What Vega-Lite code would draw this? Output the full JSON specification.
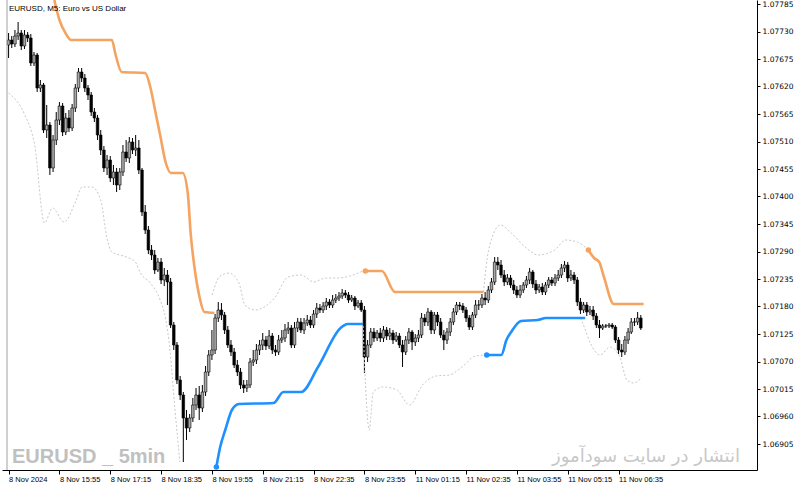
{
"$schema": "https://vega.github.io/schema/vega-lite/v6.json",
"width": 755, "height": 470,
"autosize": {"type": "none"},
"padding": {"left": 2, "top": 0, "right": 43, "bottom": 17},
"background": "white",
"config": {"view": {"stroke": null}, "axis": {"grid": false, "title": null}},
"datasets": {
"bars": [
{"i":0,"o":1.07703,"h":1.07727,"l":1.07677,"c":1.07713},
{"i":1,"o":1.07713,"h":1.07721,"l":1.07697,"c":1.07705},
{"i":2,"o":1.07705,"h":1.07733,"l":1.07699,"c":1.07721},
{"i":3,"o":1.07721,"h":1.07749,"l":1.07713,"c":1.07727},
{"i":4,"o":1.07727,"h":1.07733,"l":1.07693,"c":1.07701},
{"i":5,"o":1.07701,"h":1.07733,"l":1.07695,"c":1.07723},
{"i":6,"o":1.07723,"h":1.07729,"l":1.07709,"c":1.07717},
{"i":7,"o":1.07717,"h":1.07725,"l":1.07661,"c":1.07667},
{"i":8,"o":1.07667,"h":1.07689,"l":1.07661,"c":1.07683},
{"i":9,"o":1.07683,"h":1.07687,"l":1.07609,"c":1.07617},
{"i":10,"o":1.07617,"h":1.07633,"l":1.07609,"c":1.07623},
{"i":11,"o":1.07623,"h":1.07627,"l":1.07527,"c":1.07533},
{"i":12,"o":1.07533,"h":1.07583,"l":1.07517,"c":1.07543},
{"i":13,"o":1.07543,"h":1.07549,"l":1.07443,"c":1.07457},
{"i":14,"o":1.07457,"h":1.07523,"l":1.07449,"c":1.07513},
{"i":15,"o":1.07513,"h":1.07569,"l":1.07503,"c":1.07553},
{"i":16,"o":1.07553,"h":1.07589,"l":1.07543,"c":1.07581},
{"i":17,"o":1.07581,"h":1.07587,"l":1.07521,"c":1.07529},
{"i":18,"o":1.07529,"h":1.07567,"l":1.07523,"c":1.07557},
{"i":19,"o":1.07557,"h":1.07573,"l":1.07529,"c":1.07537},
{"i":20,"o":1.07537,"h":1.07585,"l":1.07531,"c":1.07577},
{"i":21,"o":1.07577,"h":1.07625,"l":1.07569,"c":1.07617},
{"i":22,"o":1.07617,"h":1.07657,"l":1.07609,"c":1.07649},
{"i":23,"o":1.07649,"h":1.07657,"l":1.07629,"c":1.07637},
{"i":24,"o":1.07637,"h":1.07645,"l":1.07609,"c":1.07617},
{"i":25,"o":1.07617,"h":1.07623,"l":1.07593,"c":1.07603},
{"i":26,"o":1.07603,"h":1.07609,"l":1.07561,"c":1.07569},
{"i":27,"o":1.07569,"h":1.07577,"l":1.07549,"c":1.07557},
{"i":28,"o":1.07557,"h":1.07563,"l":1.07513,"c":1.07523},
{"i":29,"o":1.07523,"h":1.07533,"l":1.07483,"c":1.07493},
{"i":30,"o":1.07493,"h":1.07501,"l":1.07449,"c":1.07457},
{"i":31,"o":1.07457,"h":1.07483,"l":1.07443,"c":1.07473},
{"i":32,"o":1.07473,"h":1.07481,"l":1.07429,"c":1.07437},
{"i":33,"o":1.07437,"h":1.07463,"l":1.07423,"c":1.07449},
{"i":34,"o":1.07449,"h":1.07457,"l":1.07409,"c":1.07423},
{"i":35,"o":1.07423,"h":1.07457,"l":1.07413,"c":1.07449},
{"i":36,"o":1.07449,"h":1.07503,"l":1.07441,"c":1.07489},
{"i":37,"o":1.07489,"h":1.07513,"l":1.07469,"c":1.07477},
{"i":38,"o":1.07477,"h":1.07519,"l":1.07467,"c":1.07509},
{"i":39,"o":1.07509,"h":1.07517,"l":1.07485,"c":1.07493},
{"i":40,"o":1.07493,"h":1.07523,"l":1.07481,"c":1.07497},
{"i":41,"o":1.07497,"h":1.07513,"l":1.07445,"c":1.07453},
{"i":42,"o":1.07453,"h":1.07457,"l":1.07361,"c":1.07369},
{"i":43,"o":1.07369,"h":1.07383,"l":1.07325,"c":1.07333},
{"i":44,"o":1.07333,"h":1.07341,"l":1.07285,"c":1.07293},
{"i":45,"o":1.07293,"h":1.07303,"l":1.07273,"c":1.07283},
{"i":46,"o":1.07283,"h":1.07293,"l":1.07245,"c":1.07253},
{"i":47,"o":1.07253,"h":1.07277,"l":1.07249,"c":1.07269},
{"i":48,"o":1.07269,"h":1.07277,"l":1.07225,"c":1.07233},
{"i":49,"o":1.07233,"h":1.07257,"l":1.07221,"c":1.07243},
{"i":50,"o":1.07243,"h":1.07253,"l":1.07183,"c":1.07229},
{"i":51,"o":1.07229,"h":1.07237,"l":1.07137,"c":1.07143},
{"i":52,"o":1.07143,"h":1.07149,"l":1.07093,"c":1.07103},
{"i":53,"o":1.07103,"h":1.07109,"l":1.07025,"c":1.07033},
{"i":54,"o":1.07033,"h":1.07041,"l":1.06993,"c":1.07003},
{"i":55,"o":1.07003,"h":1.07009,"l":1.06869,"c":1.06957},
{"i":56,"o":1.06957,"h":1.06973,"l":1.06913,"c":1.06937},
{"i":57,"o":1.06937,"h":1.06965,"l":1.06929,"c":1.06957},
{"i":58,"o":1.06957,"h":1.06997,"l":1.06949,"c":1.06983},
{"i":59,"o":1.06983,"h":1.07017,"l":1.06973,"c":1.07003},
{"i":60,"o":1.07003,"h":1.07021,"l":1.06953,"c":1.06977},
{"i":61,"o":1.06977,"h":1.07023,"l":1.06969,"c":1.07009},
{"i":62,"o":1.07009,"h":1.07061,"l":1.07001,"c":1.07049},
{"i":63,"o":1.07049,"h":1.07093,"l":1.07041,"c":1.07083},
{"i":64,"o":1.07083,"h":1.07133,"l":1.07073,"c":1.07093},
{"i":65,"o":1.07093,"h":1.07165,"l":1.07085,"c":1.07157},
{"i":66,"o":1.07157,"h":1.07189,"l":1.07149,"c":1.07173},
{"i":67,"o":1.07173,"h":1.07187,"l":1.07153,"c":1.07163},
{"i":68,"o":1.07163,"h":1.07169,"l":1.07125,"c":1.07133},
{"i":69,"o":1.07133,"h":1.07141,"l":1.07097,"c":1.07103},
{"i":70,"o":1.07103,"h":1.07113,"l":1.07081,"c":1.07089},
{"i":71,"o":1.07089,"h":1.07097,"l":1.07057,"c":1.07063},
{"i":72,"o":1.07063,"h":1.07073,"l":1.07041,"c":1.07049},
{"i":73,"o":1.07049,"h":1.07057,"l":1.07015,"c":1.07023},
{"i":74,"o":1.07023,"h":1.07033,"l":1.07007,"c":1.07017},
{"i":75,"o":1.07017,"h":1.07033,"l":1.07009,"c":1.07023},
{"i":76,"o":1.07023,"h":1.07077,"l":1.07017,"c":1.07069},
{"i":77,"o":1.07069,"h":1.07093,"l":1.07061,"c":1.07073},
{"i":78,"o":1.07073,"h":1.07105,"l":1.07065,"c":1.07093},
{"i":79,"o":1.07093,"h":1.07113,"l":1.07083,"c":1.07103},
{"i":80,"o":1.07103,"h":1.07127,"l":1.07093,"c":1.07113},
{"i":81,"o":1.07113,"h":1.07121,"l":1.07093,"c":1.07101},
{"i":82,"o":1.07101,"h":1.07133,"l":1.07095,"c":1.07121},
{"i":83,"o":1.07121,"h":1.07127,"l":1.07085,"c":1.07093},
{"i":84,"o":1.07093,"h":1.07103,"l":1.07081,"c":1.07089},
{"i":85,"o":1.07089,"h":1.07123,"l":1.07083,"c":1.07113},
{"i":86,"o":1.07113,"h":1.07133,"l":1.07107,"c":1.07117},
{"i":87,"o":1.07117,"h":1.07145,"l":1.07109,"c":1.07133},
{"i":88,"o":1.07133,"h":1.07149,"l":1.07125,"c":1.07137},
{"i":89,"o":1.07137,"h":1.07143,"l":1.07097,"c":1.07103},
{"i":90,"o":1.07103,"h":1.07149,"l":1.07097,"c":1.07137},
{"i":91,"o":1.07137,"h":1.07157,"l":1.07129,"c":1.07149},
{"i":92,"o":1.07149,"h":1.07157,"l":1.07127,"c":1.07133},
{"i":93,"o":1.07133,"h":1.07157,"l":1.07125,"c":1.07147},
{"i":94,"o":1.07147,"h":1.07163,"l":1.07141,"c":1.07153},
{"i":95,"o":1.07153,"h":1.07161,"l":1.07137,"c":1.07143},
{"i":96,"o":1.07143,"h":1.07173,"l":1.07137,"c":1.07165},
{"i":97,"o":1.07165,"h":1.07187,"l":1.07157,"c":1.07177},
{"i":98,"o":1.07177,"h":1.07185,"l":1.07167,"c":1.07173},
{"i":99,"o":1.07173,"h":1.07189,"l":1.07167,"c":1.07181},
{"i":100,"o":1.07181,"h":1.07197,"l":1.07173,"c":1.07189},
{"i":101,"o":1.07189,"h":1.07195,"l":1.07177,"c":1.07183},
{"i":102,"o":1.07183,"h":1.07203,"l":1.07177,"c":1.07193},
{"i":103,"o":1.07193,"h":1.07205,"l":1.07187,"c":1.07197},
{"i":104,"o":1.07197,"h":1.07209,"l":1.07191,"c":1.07201},
{"i":105,"o":1.07201,"h":1.07215,"l":1.07195,"c":1.07207},
{"i":106,"o":1.07207,"h":1.07213,"l":1.07197,"c":1.07203},
{"i":107,"o":1.07203,"h":1.07209,"l":1.07187,"c":1.07193},
{"i":108,"o":1.07193,"h":1.07203,"l":1.07189,"c":1.07197},
{"i":109,"o":1.07197,"h":1.07201,"l":1.07173,"c":1.07181},
{"i":110,"o":1.07181,"h":1.07193,"l":1.07177,"c":1.07187},
{"i":111,"o":1.07187,"h":1.07193,"l":1.07169,"c":1.07173},
{"i":112,"o":1.07173,"h":1.07181,"l":1.07047,"c":1.07079},
{"i":113,"o":1.07079,"h":1.07113,"l":1.07069,"c":1.07103},
{"i":114,"o":1.07103,"h":1.07137,"l":1.07097,"c":1.07129},
{"i":115,"o":1.07129,"h":1.07137,"l":1.07109,"c":1.07117},
{"i":116,"o":1.07117,"h":1.07133,"l":1.07111,"c":1.07127},
{"i":117,"o":1.07127,"h":1.07137,"l":1.07109,"c":1.07117},
{"i":118,"o":1.07117,"h":1.07141,"l":1.07109,"c":1.07133},
{"i":119,"o":1.07133,"h":1.07139,"l":1.07113,"c":1.07121},
{"i":120,"o":1.07121,"h":1.07137,"l":1.07113,"c":1.07127},
{"i":121,"o":1.07127,"h":1.07133,"l":1.07105,"c":1.07113},
{"i":122,"o":1.07113,"h":1.07129,"l":1.07109,"c":1.07121},
{"i":123,"o":1.07121,"h":1.07127,"l":1.07097,"c":1.07103},
{"i":124,"o":1.07103,"h":1.07113,"l":1.07059,"c":1.07089},
{"i":125,"o":1.07089,"h":1.07121,"l":1.07083,"c":1.07113},
{"i":126,"o":1.07113,"h":1.07137,"l":1.07105,"c":1.07129},
{"i":127,"o":1.07129,"h":1.07133,"l":1.07093,"c":1.07109},
{"i":128,"o":1.07109,"h":1.07125,"l":1.07101,"c":1.07117},
{"i":129,"o":1.07117,"h":1.07133,"l":1.07109,"c":1.07123},
{"i":130,"o":1.07123,"h":1.07167,"l":1.07117,"c":1.07157},
{"i":131,"o":1.07157,"h":1.07165,"l":1.07141,"c":1.07149},
{"i":132,"o":1.07149,"h":1.07177,"l":1.07141,"c":1.07169},
{"i":133,"o":1.07169,"h":1.07173,"l":1.07125,"c":1.07133},
{"i":134,"o":1.07133,"h":1.07169,"l":1.07125,"c":1.07163},
{"i":135,"o":1.07163,"h":1.07169,"l":1.07141,"c":1.07149},
{"i":136,"o":1.07149,"h":1.07157,"l":1.07117,"c":1.07123},
{"i":137,"o":1.07123,"h":1.07133,"l":1.07093,"c":1.07113},
{"i":138,"o":1.07113,"h":1.07137,"l":1.07105,"c":1.07129},
{"i":139,"o":1.07129,"h":1.07157,"l":1.07121,"c":1.07149},
{"i":140,"o":1.07149,"h":1.07177,"l":1.07143,"c":1.07169},
{"i":141,"o":1.07169,"h":1.07189,"l":1.07163,"c":1.07183},
{"i":142,"o":1.07183,"h":1.07189,"l":1.07173,"c":1.07181},
{"i":143,"o":1.07181,"h":1.07187,"l":1.07167,"c":1.07173},
{"i":144,"o":1.07173,"h":1.07179,"l":1.07149,"c":1.07157},
{"i":145,"o":1.07157,"h":1.07163,"l":1.07133,"c":1.07139},
{"i":146,"o":1.07139,"h":1.07169,"l":1.07133,"c":1.07163},
{"i":147,"o":1.07163,"h":1.07193,"l":1.07157,"c":1.07183},
{"i":148,"o":1.07183,"h":1.07193,"l":1.07173,"c":1.07183},
{"i":149,"o":1.07183,"h":1.07205,"l":1.07177,"c":1.07197},
{"i":150,"o":1.07197,"h":1.07209,"l":1.07183,"c":1.07193},
{"i":151,"o":1.07193,"h":1.07221,"l":1.07187,"c":1.07213},
{"i":152,"o":1.07213,"h":1.07237,"l":1.07207,"c":1.07229},
{"i":153,"o":1.07229,"h":1.07279,"l":1.07223,"c":1.07269},
{"i":154,"o":1.07269,"h":1.07279,"l":1.07253,"c":1.07263},
{"i":155,"o":1.07263,"h":1.07273,"l":1.07237,"c":1.07243},
{"i":156,"o":1.07243,"h":1.07253,"l":1.07221,"c":1.07229},
{"i":157,"o":1.07229,"h":1.07245,"l":1.07223,"c":1.07237},
{"i":158,"o":1.07237,"h":1.07243,"l":1.07217,"c":1.07223},
{"i":159,"o":1.07223,"h":1.07233,"l":1.07205,"c":1.07213},
{"i":160,"o":1.07213,"h":1.07221,"l":1.07197,"c":1.07203},
{"i":161,"o":1.07203,"h":1.07223,"l":1.07197,"c":1.07213},
{"i":162,"o":1.07213,"h":1.07229,"l":1.07207,"c":1.07223},
{"i":163,"o":1.07223,"h":1.07241,"l":1.07217,"c":1.07233},
{"i":164,"o":1.07233,"h":1.07257,"l":1.07225,"c":1.07249},
{"i":165,"o":1.07249,"h":1.07253,"l":1.07217,"c":1.07225},
{"i":166,"o":1.07225,"h":1.07233,"l":1.07205,"c":1.07213},
{"i":167,"o":1.07213,"h":1.07225,"l":1.07207,"c":1.07219},
{"i":168,"o":1.07219,"h":1.07227,"l":1.07203,"c":1.07209},
{"i":169,"o":1.07209,"h":1.07229,"l":1.07203,"c":1.07223},
{"i":170,"o":1.07223,"h":1.07239,"l":1.07217,"c":1.07233},
{"i":171,"o":1.07233,"h":1.07239,"l":1.07221,"c":1.07227},
{"i":172,"o":1.07227,"h":1.07245,"l":1.07221,"c":1.07237},
{"i":173,"o":1.07237,"h":1.07253,"l":1.07231,"c":1.07243},
{"i":174,"o":1.07243,"h":1.07265,"l":1.07237,"c":1.07257},
{"i":175,"o":1.07257,"h":1.07271,"l":1.07249,"c":1.07263},
{"i":176,"o":1.07263,"h":1.07269,"l":1.07229,"c":1.07237},
{"i":177,"o":1.07237,"h":1.07253,"l":1.07231,"c":1.07243},
{"i":178,"o":1.07243,"h":1.07249,"l":1.07225,"c":1.07233},
{"i":179,"o":1.07233,"h":1.07239,"l":1.07181,"c":1.07189},
{"i":180,"o":1.07189,"h":1.07197,"l":1.07165,"c":1.07173},
{"i":181,"o":1.07173,"h":1.07189,"l":1.07167,"c":1.07183},
{"i":182,"o":1.07183,"h":1.07189,"l":1.07161,"c":1.07169},
{"i":183,"o":1.07169,"h":1.07181,"l":1.07163,"c":1.07173},
{"i":184,"o":1.07173,"h":1.07181,"l":1.07153,"c":1.07161},
{"i":185,"o":1.07161,"h":1.07167,"l":1.07137,"c":1.07143},
{"i":186,"o":1.07143,"h":1.07153,"l":1.07117,"c":1.07137},
{"i":187,"o":1.07137,"h":1.07145,"l":1.07133,"c":1.07141},
{"i":188,"o":1.07141,"h":1.07145,"l":1.07137,"c":1.07141},
{"i":189,"o":1.07141,"h":1.07147,"l":1.07137,"c":1.07143},
{"i":190,"o":1.07143,"h":1.07147,"l":1.07135,"c":1.07139},
{"i":191,"o":1.07139,"h":1.07143,"l":1.07107,"c":1.07113},
{"i":192,"o":1.07113,"h":1.07119,"l":1.07085,"c":1.07093},
{"i":193,"o":1.07093,"h":1.07105,"l":1.07079,"c":1.07089},
{"i":194,"o":1.07089,"h":1.07121,"l":1.07083,"c":1.07113},
{"i":195,"o":1.07113,"h":1.07137,"l":1.07105,"c":1.07129},
{"i":196,"o":1.07129,"h":1.07157,"l":1.07125,"c":1.07149},
{"i":197,"o":1.07149,"h":1.07157,"l":1.07141,"c":1.07149},
{"i":198,"o":1.07149,"h":1.07169,"l":1.07143,"c":1.07157},
{"i":199,"o":1.07157,"h":1.07163,"l":1.07133,"c":1.07137}
],
"upper": [
{"s":"u1","i":14.4,"p":1.07793},{"s":"u1","i":16.0,"p":1.07753},{"s":"u1","i":17.9,"p":1.07727},{"s":"u1","i":19.7,"p":1.07713},{"s":"u1","i":32.5,"p":1.07713},{"s":"u1","i":33.7,"p":1.07683},{"s":"u1","i":35.6,"p":1.07649},{"s":"u1","i":43.0,"p":1.07647},{"s":"u1","i":44.6,"p":1.07619},{"s":"u1","i":46.1,"p":1.07573},{"s":"u1","i":47.7,"p":1.07523},{"s":"u1","i":49.5,"p":1.07467},{"s":"u1","i":51.1,"p":1.07447},{"s":"u1","i":54.8,"p":1.07447},{"s":"u1","i":56.4,"p":1.07407},{"s":"u1","i":57.3,"p":1.07327},{"s":"u1","i":58.5,"p":1.07259},{"s":"u1","i":60.1,"p":1.07199},{"s":"u1","i":61.6,"p":1.07169},{"s":"u1","i":64.8,"p":1.07167},
{"s":"u2","i":112.3,"p":1.07251},{"s":"u2","i":117.5,"p":1.07251},{"s":"u2","i":121.6,"p":1.07209},{"s":"u2","i":149.5,"p":1.07209},
{"s":"u3","i":182.5,"p":1.07293},{"s":"u3","i":184.3,"p":1.07277},{"s":"u3","i":185.9,"p":1.07269},{"s":"u3","i":187.4,"p":1.07239},{"s":"u3","i":190.5,"p":1.07185},{"s":"u3","i":199.9,"p":1.07185}
],
"lower": [
{"s":"d1","i":65.4,"p":1.06859},{"s":"d1","i":66.6,"p":1.06899},{"s":"d1","i":68.2,"p":1.06933},{"s":"d1","i":70.3,"p":1.06973},{"s":"d1","i":72.5,"p":1.06985},{"s":"d1","i":83.4,"p":1.06987},{"s":"d1","i":86.5,"p":1.07009},{"s":"d1","i":92.1,"p":1.07009},{"s":"d1","i":97.4,"p":1.07059},{"s":"d1","i":104.5,"p":1.07137},{"s":"d1","i":106.7,"p":1.07145},{"s":"d1","i":111.6,"p":1.07145},
{"s":"d2","i":150.5,"p":1.07083},{"s":"d2","i":155.1,"p":1.07083},{"s":"d2","i":156.7,"p":1.07113},{"s":"d2","i":158.2,"p":1.07129},{"s":"d2","i":161.3,"p":1.07151},{"s":"d2","i":166.6,"p":1.07153},{"s":"d2","i":169.1,"p":1.07157},{"s":"d2","i":181.5,"p":1.07157}
],
"band": [
{"s":"b1","i":0,"p":1.07607},{"s":"b1","i":5.1,"p":1.07563},{"s":"b1","i":8.2,"p":1.07503},{"s":"b1","i":11.3,"p":1.07347},{"s":"b1","i":13.8,"p":1.07377},{"s":"b1","i":17.5,"p":1.07349},{"s":"b1","i":21.3,"p":1.07393},{"s":"b1","i":23.1,"p":1.07419},{"s":"b1","i":26.2,"p":1.07419},{"s":"b1","i":29.0,"p":1.07393},{"s":"b1","i":30.9,"p":1.07319},{"s":"b1","i":32.5,"p":1.07289},{"s":"b1","i":37.1,"p":1.07279},{"s":"b1","i":39.9,"p":1.07269},{"s":"b1","i":41.5,"p":1.07247},{"s":"b1","i":44.6,"p":1.07227},{"s":"b1","i":47.7,"p":1.07193},{"s":"b1","i":49.5,"p":1.07153},{"s":"b1","i":50.8,"p":1.07093},{"s":"b1","i":52.3,"p":1.06979},{"s":"b1","i":53.9,"p":1.06869},
{"s":"b2","i":64.1,"p":1.07203},{"s":"b2","i":66.3,"p":1.07239},{"s":"b2","i":69.4,"p":1.07247},{"s":"b2","i":72.5,"p":1.07227},{"s":"b2","i":74.4,"p":1.07183},{"s":"b2","i":77.5,"p":1.07173},{"s":"b2","i":83.7,"p":1.07197},{"s":"b2","i":88.0,"p":1.07239},{"s":"b2","i":92.1,"p":1.07243},{"s":"b2","i":96.1,"p":1.07229},{"s":"b2","i":99.8,"p":1.07237},{"s":"b2","i":103.6,"p":1.07237},{"s":"b2","i":111.6,"p":1.07251},
{"s":"b3","i":111.6,"p":1.07141},{"s":"b3","i":112.6,"p":1.06993},{"s":"b3","i":113.5,"p":1.06933},{"s":"b3","i":114.8,"p":1.07009},{"s":"b3","i":117.9,"p":1.07019},{"s":"b3","i":122.2,"p":1.07013},{"s":"b3","i":126.2,"p":1.06983},{"s":"b3","i":130.3,"p":1.07023},{"s":"b3","i":134.6,"p":1.07041},{"s":"b3","i":138.7,"p":1.07043},{"s":"b3","i":142.7,"p":1.07059},{"s":"b3","i":147.0,"p":1.07081},{"s":"b3","i":150.5,"p":1.07083},
{"s":"b4","i":149.5,"p":1.07209},{"s":"b4","i":151.1,"p":1.07293},{"s":"b4","i":154.8,"p":1.07343},{"s":"b4","i":158.2,"p":1.07327},{"s":"b4","i":162.6,"p":1.07299},{"s":"b4","i":166.6,"p":1.07283},{"s":"b4","i":171.9,"p":1.07293},{"s":"b4","i":175.3,"p":1.07313},{"s":"b4","i":179.0,"p":1.07309},{"s":"b4","i":182.5,"p":1.07293},
{"s":"b5","i":180.0,"p":1.07157},{"s":"b5","i":181.2,"p":1.07139},{"s":"b5","i":183.1,"p":1.07107},{"s":"b5","i":186.2,"p":1.07083},{"s":"b5","i":189.3,"p":1.07099},{"s":"b5","i":192.4,"p":1.07079},{"s":"b5","i":194.6,"p":1.07033},{"s":"b5","i":196.7,"p":1.07027},{"s":"b5","i":199.2,"p":1.07037}
],
"dots": [
{"k":"up","i":112.3,"p":1.07251},{"k":"up","i":182.5,"p":1.07293},{"k":"dn","i":65.4,"p":1.06859},{"k":"dn","i":150.5,"p":1.07083}
]
},
"layer": [
{
"data": {"name": "bars"},
"mark": {"type": "rule", "color": "black", "strokeWidth": 1},
"encoding": {
"x": {"field": "i", "type": "quantitative", "scale": {"domain": [-0.5, 234], "nice": false, "zero": false},
"axis": {"orient": "bottom", "values": [0,16,32,48,64,80,96,112,128,144,160,176,192], "tickCount": 40,
"labelExpr": "['8 Nov 2024','8 Nov 15:55','8 Nov 17:15','8 Nov 18:35','8 Nov 19:55','8 Nov 21:15','8 Nov 22:35','8 Nov 23:55','11 Nov 01:15','11 Nov 02:35','11 Nov 03:55','11 Nov 05:15','11 Nov 06:35'][round(datum.value/16)]",
"labelAlign": "left", "labelFont": "Liberation Sans", "labelFontSize": 7.5, "labelColor": "black", "labelPadding": 1, "labelOverlap": false, "labelFlush": false,
"tickSize": 4, "tickColor": "black", "domainColor": "black", "title": null}},
"y": {"field": "l", "type": "quantitative", "scale": {"domain": [1.06853, 1.07793], "nice": false, "zero": false},
"axis": {"orient": "right", "values": [1.06905,1.0696,1.07015,1.0707,1.07125,1.0718,1.07235,1.0729,1.07345,1.074,1.07455,1.0751,1.07565,1.0762,1.07675,1.0773,1.07785], "tickCount": 40,
"format": ".5f", "labelFont": "DejaVu Sans", "labelFontSize": 7.5, "labelColor": "black", "labelPadding": 2, "labelFlush": false, "labelOverlap": false,
"tickSize": 3, "tickColor": "black", "domainColor": "black", "title": null}},
"y2": {"field": "h"}
}
},
{
"data": {"name": "bars"},
"mark": {"type": "bar", "width": 2.6, "stroke": "black", "strokeWidth": 0.6},
"encoding": {
"x": {"field": "i", "type": "quantitative"},
"y": {"field": "o", "type": "quantitative"},
"y2": {"field": "c"},
"color": {"condition": {"test": "datum.c < datum.o", "value": "black"}, "value": "#a8a8a8"}
}
},
{
"data": {"name": "band"},
"mark": {"type": "line", "color": "#c8c8c8", "strokeWidth": 1, "strokeDash": [2, 2], "interpolate": "monotone", "clip": true},
"encoding": {
"x": {"field": "i", "type": "quantitative"},
"y": {"field": "p", "type": "quantitative"},
"detail": {"field": "s"}
}
},
{
"data": {"name": "upper"},
"mark": {"type": "line", "color": "#F4A460", "strokeWidth": 2.6, "interpolate": "monotone", "clip": true},
"encoding": {
"x": {"field": "i", "type": "quantitative"},
"y": {"field": "p", "type": "quantitative"},
"detail": {"field": "s"}
}
},
{
"data": {"name": "lower"},
"mark": {"type": "line", "color": "#1E90FF", "strokeWidth": 2.6, "interpolate": "monotone", "clip": true},
"encoding": {
"x": {"field": "i", "type": "quantitative"},
"y": {"field": "p", "type": "quantitative"},
"detail": {"field": "s"}
}
},
{
"data": {"name": "dots"},
"mark": {"type": "point", "filled": true, "size": 30, "opacity": 1},
"encoding": {
"x": {"field": "i", "type": "quantitative"},
"y": {"field": "p", "type": "quantitative"},
"color": {"field": "k", "type": "nominal", "scale": {"domain": ["up", "dn"], "range": ["#F4A460", "#1E90FF"]}, "legend": null}
}
},
{
"data": {"values": [{}]},
"mark": {"type": "rule", "color": "#a0a0a0", "strokeWidth": 1},
"encoding": {"x": {"datum": -0.5}, "y": {"datum": 1.06853}, "y2": {"datum": 1.07793}}
},
{
"data": {"values": [{}]},
"mark": {"type": "text", "align": "left", "baseline": "alphabetic", "font": "Liberation Sans", "fontSize": 8, "color": "black"},
"encoding": {"x": {"datum": 0.1}, "y": {"datum": 1.07771}, "text": {"value": "EURUSD, M5:  Euro vs US Dollar"}}
},
{
"data": {"values": [{}]},
"mark": {"type": "text", "align": "left", "baseline": "alphabetic", "font": "Liberation Sans", "fontWeight": "bold", "fontSize": 20, "color": "#c0c0c0"},
"encoding": {"x": {"datum": 1.06}, "y": {"datum": 1.06867}, "text": {"value": "EURUSD _ 5min"}}
},
{
"data": {"values": [{}]},
"mark": {"type": "text", "align": "right", "baseline": "alphabetic", "font": "DejaVu Sans", "fontSize": 18, "color": "#c8c8c8"},
"encoding": {"x": {"datum": 230.2}, "y": {"datum": 1.06869}, "text": {"value": "انتشار در سایت سودآموز"}}
}
]
}
